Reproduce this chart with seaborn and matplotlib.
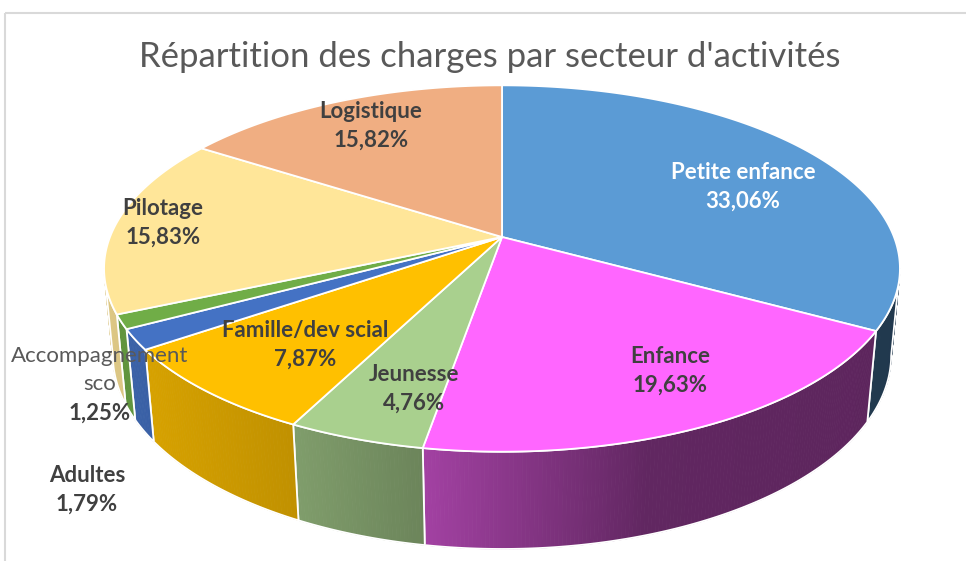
import numpy as np
import matplotlib.pyplot as plt
import seaborn as sns
from matplotlib.patches import Polygon, Rectangle
from matplotlib.colors import to_rgb

plt.switch_backend("Agg")

# données
categories = ["Petite enfance", "Enfance", "Jeunesse", "Famille/dev scial",
              "Adultes", "Accompagnement\nsco", "Pilotage", "Logistique"]
values = [33.06, 19.63, 4.76, 7.87, 1.79, 1.25, 15.83, 15.82]
colors = ["#5B9BD5", "#FF66FF", "#A9D08E", "#FFC000",
          "#4472C4", "#70AD47", "#FFE699", "#F0AE82"]

title = "Répartition des charges par secteur d'activités"

# position des étiquettes (pixels), style
label_pos = [(743, 187), (670, 371), (414, 389), (305, 345),
             (87, 490), (100, 383), (163, 223), (371, 126)]
label_color = ["white", "#404040", "#404040", "#404040",
               "#404040", "#595959", "#404040", "#404040"]

# géométrie du camembert 3D (perspective)
CX, CY, RAD = 502, 237, 392
SE = 0.4535
CE = np.sqrt(1 - SE ** 2)
DIST = 5.18
H = 0.25


def proj(phi_deg, z=0.0):
    p = np.radians(phi_deg)
    X = np.cos(p)
    Y = np.sin(p)
    v = Y * SE + z * CE
    w = -Y * CE + z * SE
    s = DIST / (DIST - w)
    return CX + RAD * X * s, CY - RAD * v * s


def shade(x):
    return np.interp(x, [100, 300, 430, 650, 966], [0.87, 0.75, 0.63, 0.38, 0.36])


sns.set_style("white")
plt.rcParams["font.family"] = ["Lato", "DejaVu Sans"]

fig = plt.figure(figsize=(9.66, 5.61), dpi=100)
ax = fig.add_axes([0, 0, 1, 1])
ax.set_xlim(0, 966)
ax.set_ylim(561, 0)
ax.axis("off")

ax.add_patch(Rectangle((5, 13), 1000, 600, fill=False, edgecolor="#D9D9D9", lw=1.5))

total = sum(values)
cum = np.concatenate([[0], np.cumsum(values)]) / total * 360
starts = 90 - cum[:-1]
ends = 90 - cum[1:]

lim = np.degrees(np.arcsin(CE / DIST))
vis_lo, vis_hi = -180 + lim, -lim

# parois latérales visibles
for i in range(len(values)):
    a = max(ends[i], vis_lo)
    b = min(starts[i], vis_hi)
    if a >= b:
        continue
    base = np.array(to_rgb(colors[i]))
    phis = np.linspace(a, b, max(int((b - a) * 2), 2))
    for p0, p1 in zip(phis[:-1], phis[1:]):
        x0, y0 = proj(p0)
        x1, y1 = proj(p1)
        x2, y2 = proj(p1, -H)
        x3, y3 = proj(p0, -H)
        c = np.clip(base * shade((x0 + x1) / 2), 0, 1)
        ax.add_patch(Polygon([(x0, y0), (x1, y1), (x2, y2), (x3, y3)],
                             closed=True, facecolor=c, edgecolor=c, lw=0.6))
    top = [proj(p) for p in phis]
    bot = [proj(p, -H) for p in phis[::-1]]
    ax.add_patch(Polygon(top + bot, closed=True, facecolor="none",
                         edgecolor="white", lw=1.3))

# faces supérieures
for i in range(len(values)):
    phis = np.linspace(starts[i], ends[i], max(int(abs(starts[i] - ends[i]) * 2), 3))
    pts = [(CX, CY)] + [proj(p) for p in phis]
    ax.add_patch(Polygon(pts, closed=True, facecolor=colors[i],
                         edgecolor="white", lw=1.3))

# étiquettes
for i, (name, val) in enumerate(zip(categories, values)):
    x, y = label_pos[i]
    pct = f"{val:.2f}%".replace(".", ",")
    if "\n" in name:
        ax.text(x, y - 13, name, ha="center", va="center", fontsize=16,
                color=label_color[i], linespacing=1.45)
        ax.text(x, y + 30, pct, ha="center", va="center", fontsize=16,
                color="#404040", fontweight="bold")
    else:
        ax.text(x, y, name + "\n" + pct, ha="center", va="center", fontsize=16,
                color=label_color[i], fontweight="bold", linespacing=1.45)

ax.text(490, 57, title, ha="center", va="center", fontsize=25,
        color="#595959")

fig.savefig("out.png", dpi=100)
plt.close(fig)
